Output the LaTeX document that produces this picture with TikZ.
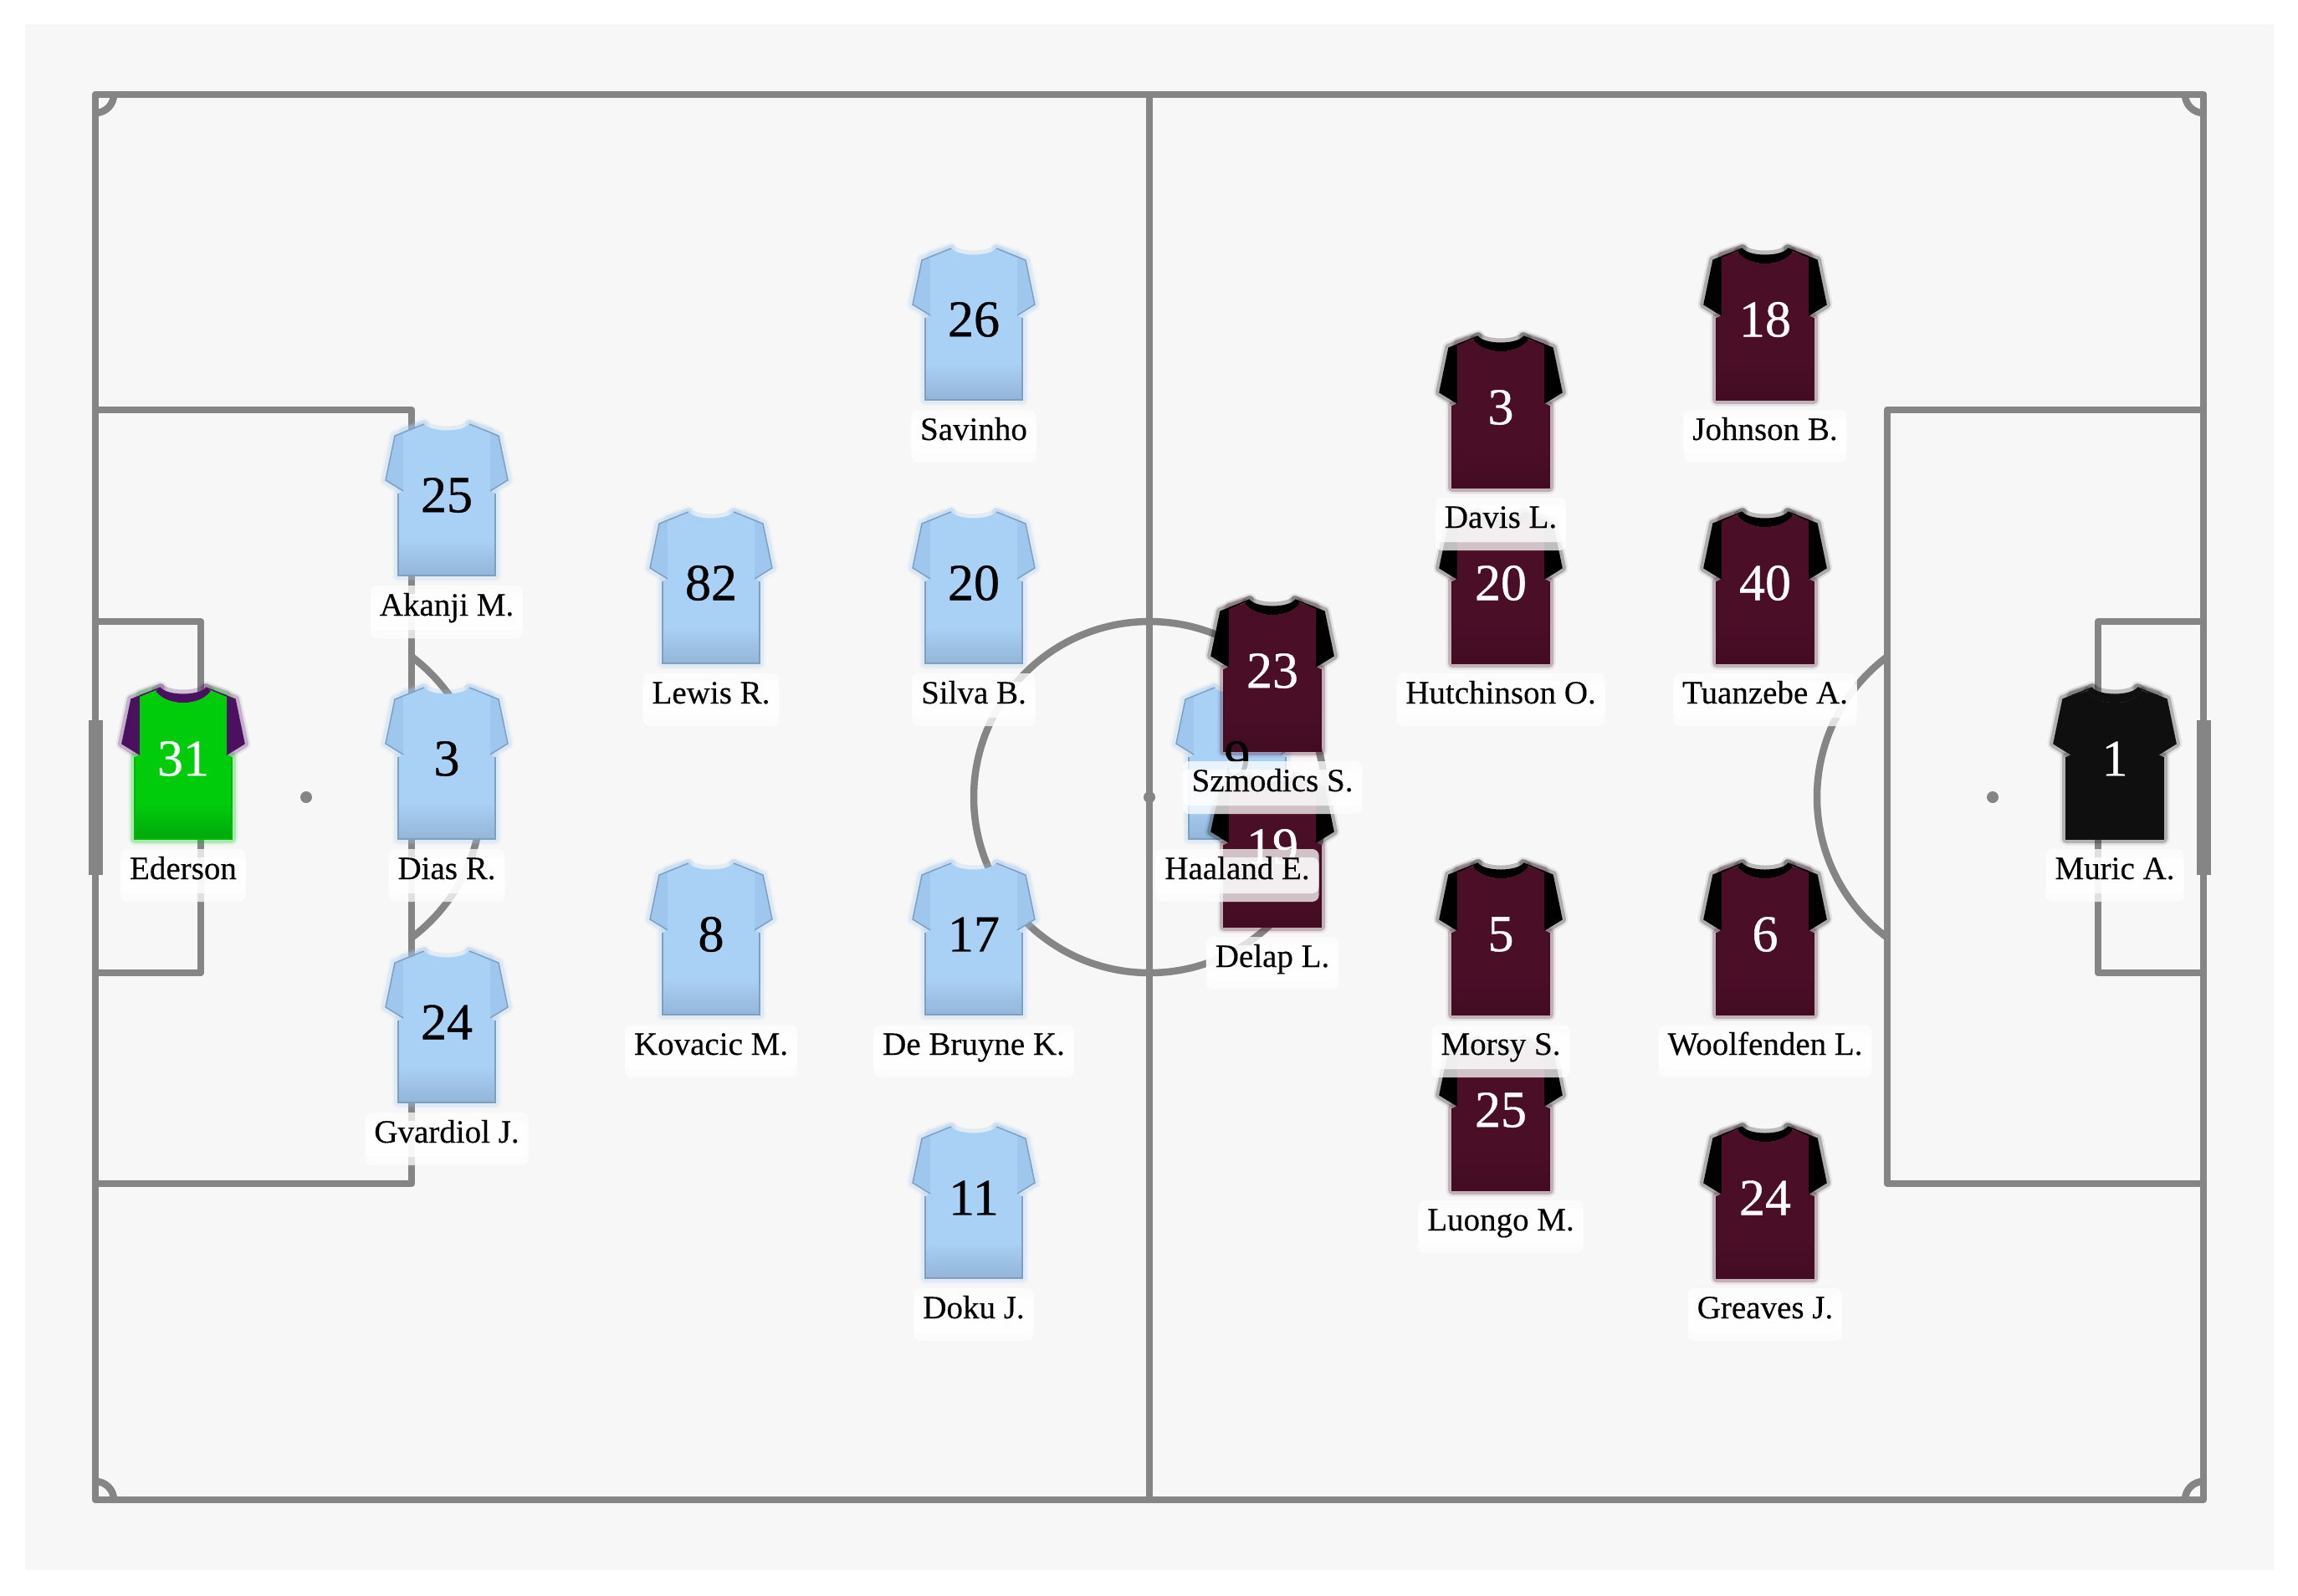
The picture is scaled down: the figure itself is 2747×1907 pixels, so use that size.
\documentclass[tikz,border=0pt]{standalone}
\usepackage{fontspec}
\setmainfont[FakeBold=0.3]{Liberation Serif}
\newfontfamily\numfont[FakeBold=0.6]{Liberation Serif}
\usetikzlibrary{calc,positioning}

\definecolor{pitchgrey}{HTML}{858585}
\definecolor{pitchbg}{HTML}{F7F7F7}
% kit colours: body, sleeve, collar, bottom of the body, number, edges
\definecolor{citybody}{HTML}{A9D0F5}
\definecolor{citysleeve}{HTML}{9FC6EC}
\definecolor{citycollar}{HTML}{A9D0F5}
\definecolor{citydark}{HTML}{93B5D8}
\definecolor{citynum}{HTML}{000000}
\definecolor{cityedge}{HTML}{7F9FC0}
\definecolor{cityrim}{HTML}{7F9FC0}
\definecolor{keeperbody}{HTML}{00CC0C}
\definecolor{keepersleeve}{HTML}{4B1060}
\definecolor{keepercollar}{HTML}{4B1060}
\definecolor{keeperdark}{HTML}{00A80A}
\definecolor{keepernum}{HTML}{FFFFFF}
\definecolor{keeperedge}{HTML}{00B80A}
\definecolor{keeperrim}{HTML}{4B1060}
\definecolor{maroonbody}{HTML}{4A0E27}
\definecolor{maroonsleeve}{HTML}{000000}
\definecolor{marooncollar}{HTML}{000000}
\definecolor{maroondark}{HTML}{420C22}
\definecolor{maroonnum}{HTML}{FFFFFF}
\definecolor{maroonedge}{HTML}{420C22}
\definecolor{maroonrim}{HTML}{000000}
\definecolor{muricbody}{HTML}{0F0F0F}
\definecolor{muricsleeve}{HTML}{0F0F0F}
\definecolor{muriccollar}{HTML}{0F0F0F}
\definecolor{muricdark}{HTML}{0F0F0F}
\definecolor{muricnum}{HTML}{FFFFFF}
\definecolor{muricedge}{HTML}{0F0F0F}
\definecolor{muricrim}{HTML}{0F0F0F}

\tikzset{
  pitchline/.style={draw=pitchgrey, line width=8.5pt, line join=round},
  numtext/.style={font=\numfont\fontsize{62}{64}\selectfont, inner sep=0pt},
  halowide/.style={opacity=.08, line width=15pt, line join=round},
  halothin/.style={opacity=.24, line width=10pt, line join=round},
  playerlabel/.style={
    font=\fontsize{39}{41}\selectfont, text=black,
    inner xsep=11pt, inner ysep=0pt, text height=36pt, text depth=17pt,
    rounded corners=8pt, fill=white, fill opacity=.75, text opacity=1,
    preaction={transform canvas={yshift=-10pt}, fill=white, fill opacity=.75}},
}

\newcommand{\shirtsleeves}{
  (-27,-83) -- (-62,-69) -- (-73,-16) -- (-52,-3) -- (-52,-74) -- cycle
  (27,-83) -- (62,-69) -- (73,-16) -- (52,-3) -- (52,-74) -- cycle}
\newcommand{\shirtcollar}{
  (-27,-83) .. controls (-18,-73) and (18,-73) .. (27,-83) -- (33,-79)
  .. controls (20,-60) and (-20,-60) .. (-33,-79) -- cycle}
\newcommand{\shirtbody}{
  (-33,-79) .. controls (-20,-60) and (20,-60) .. (33,-79) -- (52,-73) -- (52,-3)
  -- (58,0) -- (58,98) -- (-58,98) -- (-58,0) -- (-52,-3) -- (-52,-73) -- cycle}

% name/x/y/number/label/kit
\newcommand{\squad}{
  ederson/219/905/31/Ederson/keeper,
  akanji/534/590/25/Akanji M./city,
  dias/534/905/3/Dias R./city,
  gvardiol/534/1220/24/Gvardiol J./city,
  lewis/850/695/82/Lewis R./city,
  kovacic/850/1115/8/Kovacic M./city,
  savinho/1164/380/26/Savinho/city,
  silva/1164/695/20/Silva B./city,
  debruyne/1164/1115/17/De Bruyne K./city,
  doku/1164/1430/11/Doku J./city,
  haaland/1479/905/9/Haaland E./city,
  muric/2528/905/1/Muric A./muric,
  greaves/2110/1430/24/Greaves J./maroon,
  luongo/1794/1325/25/Luongo M./maroon,
  woolfenden/2110/1115/6/Woolfenden L./maroon,
  morsy/1794/1115/5/Morsy S./maroon,
  delap/1521/1010/19/Delap L./maroon,
  tuanzebe/2110/695/40/Tuanzebe A./maroon,
  hutchinson/1794/695/20/Hutchinson O./maroon,
  davis/1794/485/3/Davis L./maroon,
  johnson/2110/380/18/Johnson B./maroon,
  szmodics/1521/800/23/Szmodics S./maroon}

\begin{document}
\begin{tikzpicture}[x=1pt,y=-1pt]
  \useasboundingbox (0,0) rectangle (2747,1907);
  \fill[pitchbg] (30,29) rectangle (2718,1877);

  % pitch
  \draw[pitchline] (114,113) rectangle (2634,1793);
  \draw[pitchline] (1374,113) -- (1374,1793);
  \draw[pitchline] (1374,953) circle[radius=210pt];
  \fill[pitchgrey] (1374,953) circle[radius=7pt];
  \draw[pitchline] (114,490) -- (492,490) -- (492,1415) -- (114,1415);
  \draw[pitchline] (2634,490) -- (2256,490) -- (2256,1415) -- (2634,1415);
  \draw[pitchline] (114,743) -- (240,743) -- (240,1163) -- (114,1163);
  \draw[pitchline] (2634,743) -- (2508,743) -- (2508,1163) -- (2634,1163);
  \fill[pitchgrey] (366,953) circle[radius=7pt];
  \fill[pitchgrey] (2382,953) circle[radius=7pt];
  \draw[pitchline] (492,1121) arc[start angle=-53.13, end angle=53.13, radius=210pt];
  \draw[pitchline] (2256,785) arc[start angle=126.87, end angle=233.13, radius=210pt];
  \draw[pitchline] (136,113) arc[start angle=0, end angle=-90, radius=22pt];
  \draw[pitchline] (2612,113) arc[start angle=180, end angle=270, radius=22pt];
  \draw[pitchline] (136,1793) arc[start angle=0, end angle=90, radius=22pt];
  \draw[pitchline] (2612,1793) arc[start angle=180, end angle=90, radius=22pt];
  \fill[pitchgrey] (106,861) rectangle (123,1046);
  \fill[pitchgrey] (2626,861) rectangle (2643,1046);

  % shirts
  \foreach \pid/\px/\py/\pnum/\pname/\pkit in \squad {
    \begin{scope}[shift={(\px,\py)}]
      \draw[\pkit sleeve, halowide] \shirtsleeves;
      \draw[\pkit sleeve, halothin] \shirtsleeves;
      \draw[\pkit sleeve, halothin] \shirtcollar;
      \draw[\pkit body, halowide] \shirtbody;
      \draw[\pkit body, halothin] \shirtbody;
      \fill[\pkit sleeve] \shirtsleeves;
      \fill[\pkit collar] \shirtcollar;
      \fill[\pkit body] \shirtbody;
      \shade[top color=\pkit body, bottom color=\pkit dark] (-58,55) rectangle (58,98);
      \draw[\pkit edge, line width=1.5pt] (-58,0) -- (-58,98) -- (58,98) -- (58,0);
      \draw[\pkit rim, line width=1.5pt] (-52,-3) -- (-73,-16) -- (-62,-69) -- (-27,-83)
        (52,-3) -- (73,-16) -- (62,-69) -- (27,-83);
    \end{scope}
  }

  % numbers
  \foreach \pid/\px/\py/\pnum/\pname/\pkit in \squad {
    \node[numtext, text=\pkit num] (num\pid) at (\px,\py+2) {\pnum};
  }

  % labels
  \foreach \pid/\px/\py/\pnum/\pname/\pkit in \squad {
    \node[playerlabel, anchor=base] (lab\pid) at (\px,\py+146) {\pname};
  }
\end{tikzpicture}
\end{document}
